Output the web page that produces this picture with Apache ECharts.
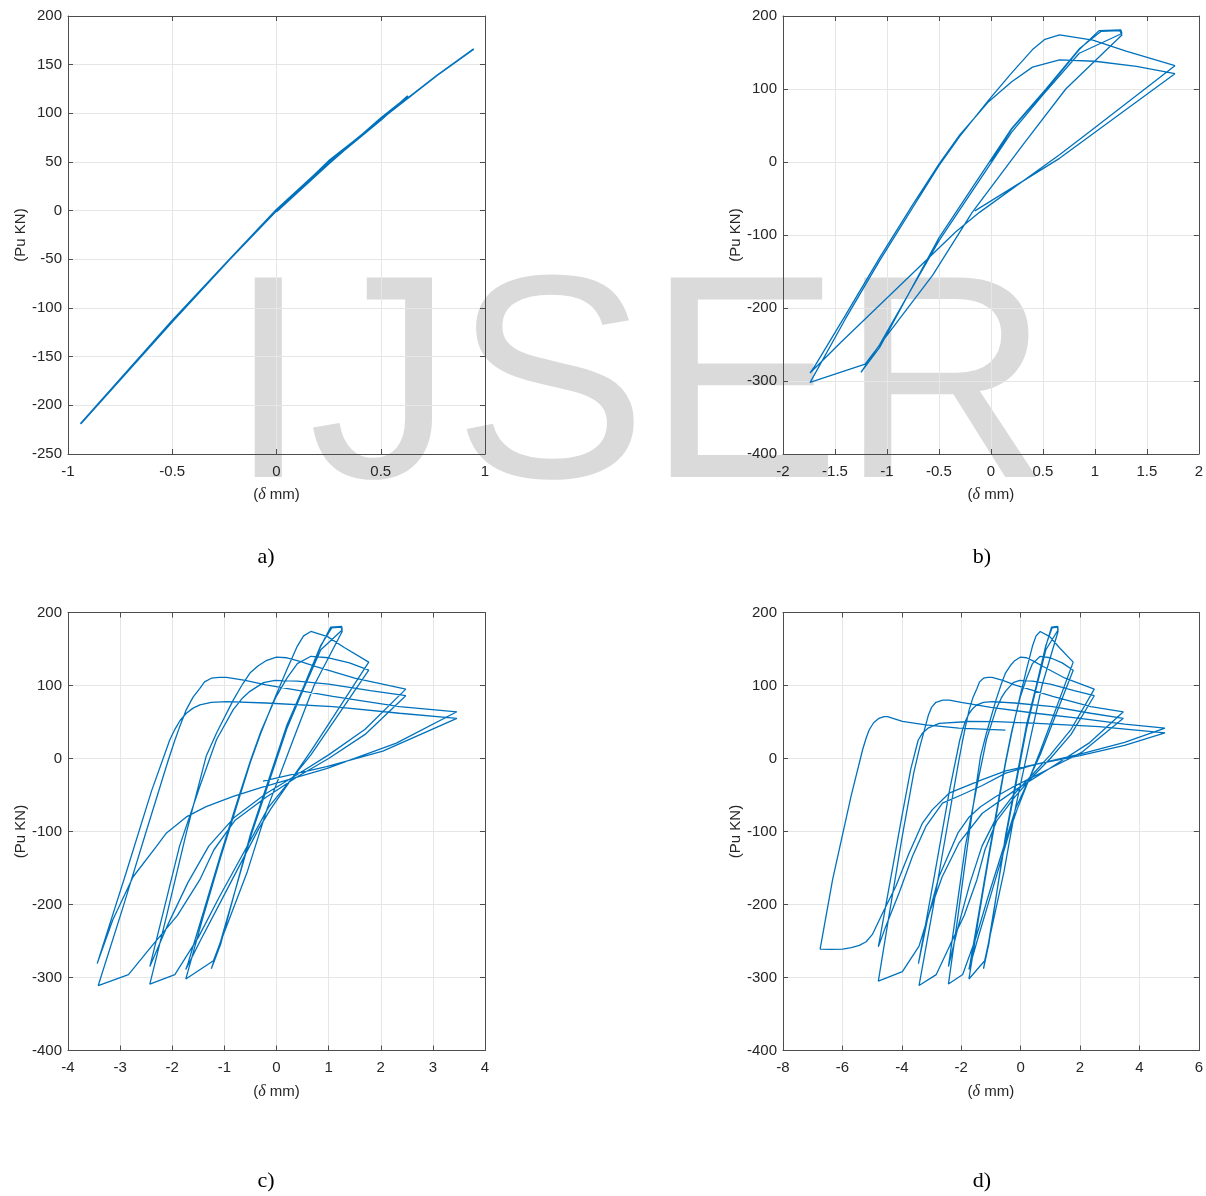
<!DOCTYPE html>
<html>
<head>
<meta charset="utf-8">
<title>Load-displacement hysteresis</title>
<script src="https://cdn.jsdelivr.net/npm/echarts@6/dist/echarts.min.js"></script>
<style>
  html, body { margin: 0; padding: 0; background: #fff; }
  #chart { width: 1206px; height: 1196px; }
</style>
</head>
<body>
<div id="chart"></div>
<script>
// (delta mm, Pu kN)

// panel a) - elastic cycles
const aPath = [[0,0],[0.25,50],[0.5,94],[0.63,117],[0.5,95],[0.25,48],[0,-1],[0.25,51],[0.5,93],[0.63,118],
  [0.5,93],[0.25,49],[0,0],[-0.225,-50],[-0.5,-114],[-0.94,-219],[-0.5,-113],[-0.225,-50],[0,1],
  [0.25,50],[0.5,94],[0.77,139],[0.946,166]];

// cycles at 1.25 mm
const load125a = [[0,0],[0.2,45],[0.53,99],[0.85,154],[1.04,180],[1.25,181]];
const unld125a = [[1.26,176],[0.85,149],[0.5,92],[0.2,41],[-0.5,-108],[-1.07,-250],[-1.25,-288]];
const load125b = [[-1.07,-254],[-0.5,-104],[0.2,46],[0.53,100],[0.85,155],[1.06,179],[1.24,180]];
const unld125b = [[1.26,174],[0.72,100],[0.3,22],[-0.18,-69],[-0.56,-155],[-1.21,-277],[-1.74,-302]];

// cycles at 1.75 mm
const load175a = [[-1.7,-292],[-1.4,-215],[-1.07,-135],[-0.75,-62],[-0.5,-5],[-0.3,35],[-0.02,85],[0.2,122],
  [0.4,154],[0.52,168],[0.66,174],[0.98,167],[1.3,152],[1.77,132]];
const unld175a = [[0.98,45],[0.66,10],[-0.11,-69],[-0.34,-96],[-1.07,-196],[-1.45,-248],[-1.74,-289]];
const load175b = [[-1.7,-281],[-1.4,-210],[-1.07,-131],[-0.75,-58],[-0.5,-3],[-0.3,37],[-0.02,83],[0.2,110],
  [0.4,130],[0.66,140],[1.0,138],[1.4,131],[1.77,121]];
const unld175b = [[0.66,5],[-0.154,-67]];
const unld175bTail = [[-0.6,-125],[-1.1,-190],[-1.5,-245],[-1.95,-296],[-2.43,-309]];

// cycles at 2.5 mm
const load250a = [[-2.11,-216],[-1.73,-102],[-1.35,3],[-1.15,35],[-0.83,80],[-0.65,102],[-0.51,117],[-0.35,127],
  [-0.2,134],[0,139],[0.2,138],[0.45,133],[0.76,126],[1.5,110],[2.48,95]];
const unld250a = [[1.7,40],[1.0,5],[0.4,-22],[-0.2,-48],[-0.8,-80],[-1.3,-120],[-1.7,-170],[-2.1,-230],[-2.43,-285]];
const load250b = [[-1.86,-120],[-1.47,-38],[-1.15,26],[-0.83,67],[-0.65,83],[-0.51,92],[-0.25,104],[-0.03,107],
  [0.4,106],[1.0,102],[1.8,93],[2.48,86]];
const unld250b = [[1.7,33],[1.0,0],[0.4,-25],[-0.2,-53],[-0.8,-85],[-1.2,-125],[-1.47,-166],[-1.9,-215],
  [-2.37,-255],[-2.84,-296],[-3.42,-311]];

// cycles at 3.5 mm
const load350a = [[-2.95,-205],[-2.5,-100],[-2.08,-3],[-1.95,25],[-1.85,45],[-1.73,67],[-1.6,84],[-1.47,96],
  [-1.38,105],[-1.25,110],[-1.1,111],[-0.96,111],[-0.6,107],[-0.2,101],[1.08,85],[2.36,71],[3.46,64]];
const unld350a = [[2.3,21],[0.96,-14],[-0.3,-40],[-0.83,-52],[-1.35,-66],[-1.73,-80],[-2.11,-102],[-2.3,-120],
  [-2.75,-162],[-3.14,-221],[-3.44,-281]];
const load350b = [[-2.9,-160],[-2.4,-45],[-2.05,25],[-1.95,40],[-1.85,52],[-1.73,62],[-1.6,69],[-1.47,73.5],
  [-1.25,77],[-0.96,78],[-0.2,76],[1.08,71],[2.36,62],[3.46,55]];
const unld350bC = [[2.04,10],[0.96,-11],[-0.26,-31]];
const unld350bD = [[2.04,8],[0.96,-14],[-0.17,-43],[-1.29,-75],[-2.08,-116],[-2.64,-162],[-3.08,-212],
  [-3.42,-257],[-3.98,-292],[-4.79,-305]];

// cycles at 4.75 mm and the last push to -6.75 mm
const load475a = [[-4.45,-220],[-4.0,-110],[-3.6,-20],[-3.4,15],[-3.2,45],[-3.1,60],[-3.0,70],[-2.85,77],
  [-2.62,80],[-2.4,80],[-2.0,77],[-1.0,70],[0.5,62],[2.0,55],[3.5,47],[4.86,41.5]];
const unld475a = [[3.5,22],[2.0,6],[0.5,-8],[-0.5,-20],[-1.29,-37],[-2.0,-50],[-2.63,-61],[-3.19,-93],
  [-3.64,-134],[-4.09,-184],[-4.54,-230],[-4.79,-258]];
const load475b = [[-4.4,-170],[-4.0,-80],[-3.7,-15],[-3.45,25],[-3.3,35],[-3.1,42],[-2.74,48],[-1.74,50.7],
  [-0.84,50.5],[0.4,48.4],[2.64,43.8],[4.86,35]];
const unld475b = [[3.5,18],[2.0,4],[0.5,-8],[-0.5,-17],[-1.29,-29],[-2.41,-47.5],[-2.97,-70],[-3.31,-89],
  [-3.76,-130],[-4.2,-175],[-4.65,-212],[-4.99,-241],[-5.2,-251],[-5.43,-256],[-5.7,-259],[-5.99,-261],
  [-6.4,-261.5],[-6.75,-261]];
const load675 = [[-6.33,-166],[-5.71,-52],[-5.32,12],[-5.2,28],[-5.1,39],[-4.95,49],[-4.77,55],[-4.6,57.5],
  [-4.48,57.5],[-3.98,51],[-3.2,46],[-2.08,41.5],[-0.51,39]];

// axis ranges per panel: [xmin, xmax, xstep, ymin, ymax, ystep]
const ranges = [
  [-1, 1, 0.5, -250, 200, 50],
  [-2, 2, 0.5, -400, 200, 100],
  [-4, 4, 1, -400, 200, 100],
  [-8, 6, 2, -400, 200, 100]
];
const panelLabels = ["a)", "b)", "c)", "d)"];

const bPath = [].concat(load125a, unld125a, load125b, unld125b, load175a, unld175a, load175b, unld175b);
const cPath = [].concat(bPath, unld175bTail, load250a, unld250a, load250b, unld250b,
  load350a, unld350a, load350b, unld350bC);
const dPath = [].concat(bPath, unld175bTail, load250a, unld250a, load250b, unld250b,
  load350a, unld350a, load350b, unld350bD, load475a, unld475a, load475b, unld475b, load675);
const paths = [aPath, bPath, cPath, dPath];

const grids = [
  { left: 68, top: 16, width: 417, height: 438 },
  { left: 783, top: 16, width: 417, height: 438 },
  { left: 68, top: 612.5, width: 417, height: 438 },
  { left: 783, top: 612.5, width: 417, height: 438 }
];

const AX = "#4d4d4d", TXT = "#262626", GRID = "#e6e6e6", BLUE = "#0072BD";
const font = "Liberation Sans";

const xAxes = [], yAxes = [], series = [];
ranges.forEach((r, i) => {
  const [x0, x1, dx, y0, y1, dy] = r;
  const tick = { show: true, inside: true, length: 5, lineStyle: { color: AX } };
  const line = { show: true, onZero: false, lineStyle: { color: AX, width: 1 } };
  xAxes.push({
    gridIndex: i, type: "value", min: x0, max: x1, interval: dx, position: "bottom",
    axisLine: line, axisTick: tick,
    axisLabel: { color: TXT, fontSize: 15, fontFamily: font, margin: 10 },
    splitLine: { show: true, lineStyle: { color: GRID, width: 1 } },
    name: "({d|δ} mm)", nameLocation: "middle", nameGap: 33,
    nameTextStyle: { color: TXT, fontSize: 15, fontFamily: font,
      rich: { d: { fontStyle: "italic", fontFamily: "Liberation Serif", fontSize: 16, color: TXT } } }
  });
  xAxes.push({
    gridIndex: i, type: "value", min: x0, max: x1, interval: dx, position: "top",
    axisLine: line, axisTick: tick, axisLabel: { show: false }, splitLine: { show: false }
  });
  yAxes.push({
    gridIndex: i, type: "value", min: y0, max: y1, interval: dy, position: "left",
    axisLine: line, axisTick: tick,
    axisLabel: { color: TXT, fontSize: 15, fontFamily: font, margin: 6 },
    splitLine: { show: true, lineStyle: { color: GRID, width: 1 } },
    name: "(Pu KN)", nameLocation: "middle", nameGap: 40,
    nameTextStyle: { color: TXT, fontSize: 15, fontFamily: font }
  });
  yAxes.push({
    gridIndex: i, type: "value", min: y0, max: y1, interval: dy, position: "right",
    axisLine: line, axisTick: tick, axisLabel: { show: false }, splitLine: { show: false }
  });
  series.push({
    type: "line", xAxisIndex: 2 * i, yAxisIndex: 2 * i, data: paths[i],
    showSymbol: false, symbol: "none", smooth: false, clip: true,
    lineStyle: { color: BLUE, width: i === 0 ? 1.8 : 1.3 }, z: 3
  });
});

const labelPos = [[266, 557], [982, 557], [266, 1181], [982, 1181]];
const graphics = [{
  type: "text", z: -10, silent: true,
  style: { text: "IJSER", x: 228, y: 397, font: "290px 'Liberation Sans'", fill: "#dadada",
    textAlign: "left", textVerticalAlign: "middle" }
}];
panelLabels.forEach((t, i) => {
  graphics.push({
    type: "text", silent: true,
    style: { text: t, x: labelPos[i][0], y: labelPos[i][1], font: "22px 'Liberation Serif'", fill: "#000",
      textAlign: "center", textVerticalAlign: "middle" }
  });
});

const chart = echarts.init(document.getElementById("chart"), null, { renderer: "canvas" });
chart.setOption({
  animation: false,
  backgroundColor: "#fff",
  grid: grids,
  xAxis: xAxes,
  yAxis: yAxes,
  series,
  graphic: { elements: graphics }
});
window.addEventListener("resize", () => chart.resize());
</script>
</body>
</html>
